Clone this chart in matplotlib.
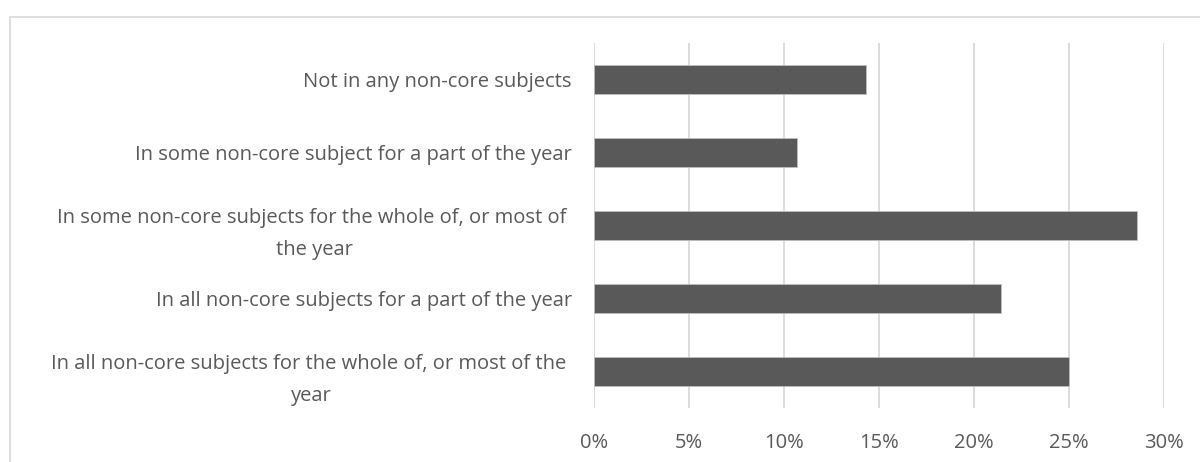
import matplotlib.pyplot as plt
from matplotlib.patches import Rectangle
from matplotlib.ticker import FuncFormatter

categories = [
    "Not in any non-core subjects",
    "In some non-core subject for a part of the year",
    "In some non-core subjects for the whole of, or most of \nthe year",
    "In all non-core subjects for a part of the year",
    "In all non-core subjects for the whole of, or most of the \nyear",
]
shares = [14.29, 10.71, 28.57, 21.43, 25.0]
xticks = [0, 5, 10, 15, 20, 25, 30]

plt.rcParams['font.family'] = ['Open Sans', 'DejaVu Sans']

fig = plt.figure(figsize=(12, 4.62), dpi=100)
ax = fig.add_axes([0.495, 0.1169, 0.475, 0.7894])

# chart frame, partly cut off at the right and bottom
fig.patches.append(Rectangle((10 / 1200, -0.1), 1.2, 1 - 17 / 462 + 0.1,
                             transform=fig.transFigure, fill=False,
                             edgecolor='#d9d9d9', linewidth=1.2))

ypos = range(len(categories))
ax.barh(ypos, shares, height=0.4, color='#595959', edgecolor='#bfbfbf',
        linewidth=0.6, zorder=3)

ax.set_xlim(0, 30)
ax.set_ylim(len(categories) - 0.5, -0.5)
ax.set_xticks(xticks)
ax.xaxis.set_major_formatter(FuncFormatter(lambda v, p: f"{v:.0f}%"))
ax.set_yticks(list(ypos))
ax.set_yticklabels(categories, multialignment='center', linespacing=1.8)

ax.grid(axis='x', color='#d9d9d9', linewidth=1.3, zorder=0)
for s in ax.spines.values():
    s.set_visible(False)
ax.tick_params(axis='both', length=0, labelsize=14.5, colors='#595959')
ax.tick_params(axis='y', pad=16)
ax.tick_params(axis='x', pad=18)

fig.savefig('out.png', dpi=100)
